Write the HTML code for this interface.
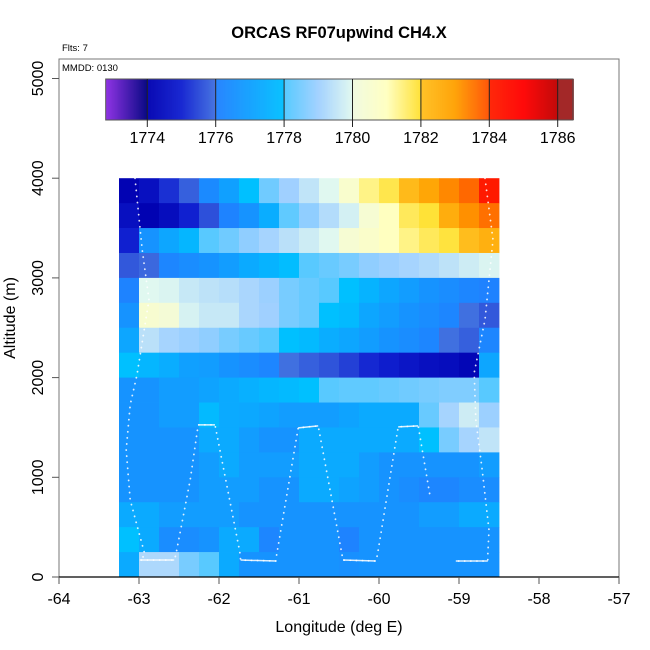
<!DOCTYPE html>
<html><head><meta charset="utf-8"><style>
body{margin:0;background:#fff}
svg{display:block;font-family:"Liberation Sans",sans-serif}
</style></head><body>
<svg id="c" width="650" height="650" xmlns="http://www.w3.org/2000/svg"></svg>
<script>
const lonStart = -63.25, lonStep = 0.25;
const altStep = 250;
// rows from top (3750-4000) to bottom (0-250), 19 columns each
const gridValues = [
[1774.1,1774.5,1775.2,1775.8,1776.3,1777.0,1778.0,1778.4,1779.0,1779.5,1780.0,1780.6,1781.4,1781.8,1782.2,1782.8,1783.3,1783.7,1784.2],
[1774.5,1774.05,1774.4,1775.0,1775.6,1776.1,1776.6,1777.4,1778.2,1778.8,1779.3,1779.8,1780.4,1781.0,1781.7,1781.95,1782.6,1783.2,1783.6],
[1775.0,1776.6,1777.2,1777.7,1778.1,1778.4,1778.8,1779.1,1779.4,1779.7,1780.0,1780.4,1780.7,1781.0,1781.4,1781.7,1781.9,1782.1,1782.5],
[1775.7,1775.9,1776.2,1776.4,1776.6,1776.9,1777.3,1777.6,1777.9,1778.1,1778.3,1778.5,1778.8,1778.95,1779.1,1779.25,1779.45,1779.7,1779.9],
[1776.1,1780.0,1779.9,1779.6,1779.45,1779.35,1779.15,1778.95,1778.5,1778.3,1778.1,1778.0,1777.6,1777.2,1776.9,1776.6,1776.4,1776.2,1776.05],
[1776.6,1780.5,1780.3,1779.85,1779.6,1779.6,1779.15,1779.0,1778.5,1778.3,1778.0,1777.8,1777.2,1776.9,1776.6,1776.4,1776.2,1776.0,1775.7],
[1777.2,1779.4,1779.1,1778.95,1778.8,1778.5,1778.3,1778.1,1778.0,1777.8,1777.4,1777.2,1776.9,1776.6,1776.4,1776.2,1776.0,1775.8,1776.2],
[1778.0,1777.7,1777.4,1777.0,1776.9,1776.6,1776.4,1776.2,1776.0,1775.8,1775.65,1775.4,1775.1,1774.9,1774.7,1774.5,1774.4,1774.2,1777.2],
[1776.6,1776.6,1776.9,1776.9,1777.1,1777.3,1777.5,1777.7,1777.8,1778.0,1778.1,1778.2,1778.2,1778.3,1778.4,1778.5,1778.6,1778.6,1778.1],
[1776.6,1776.6,1776.9,1776.9,1777.8,1777.3,1777.25,1777.1,1776.9,1776.9,1776.9,1777.1,1777.3,1777.3,1777.3,1778.3,1779.1,1779.7,1778.95],
[1776.6,1776.6,1776.6,1776.6,1777.3,1777.3,1776.9,1776.6,1776.6,1777.3,1777.3,1777.3,1777.3,1777.3,1777.3,1778.0,1778.5,1779.1,1779.5],
[1776.6,1776.6,1776.6,1776.6,1776.9,1777.3,1776.9,1776.9,1776.9,1777.3,1777.3,1777.3,1776.9,1776.6,1776.6,1776.6,1776.6,1776.6,1776.9],
[1776.6,1776.6,1776.6,1776.6,1776.9,1776.9,1776.9,1776.6,1776.6,1777.3,1777.3,1777.1,1776.9,1776.6,1776.4,1776.2,1776.2,1776.4,1776.4],
[1777.3,1777.3,1776.9,1776.9,1776.9,1776.9,1776.6,1776.6,1776.6,1776.6,1776.6,1776.6,1776.6,1776.6,1776.6,1776.9,1776.9,1777.3,1777.3],
[1778.0,1777.3,1776.4,1776.4,1776.6,1777.3,1777.3,1776.2,1776.6,1776.6,1776.6,1776.1,1776.6,1776.6,1776.6,1776.6,1776.6,1776.6,1776.6],
[1777.3,1779.2,1779.2,1778.5,1778.1,1777.3,1776.6,1776.6,1776.6,1776.6,1776.6,1776.5,1776.6,1776.6,1776.6,1776.6,1776.6,1776.6,1776.6]
];
const trackALon = [-63.05,-62.96,-62.875,-63.025,-63.11,-63.16,-63.11,-63.01,-62.925,-62.99,-62.56,-62.54,-62.36,-62.26,-62.05,-61.74,-61.73,-61.29,-61.28,-61.01,-60.76,-60.45,-60.04,-60.02,-59.76,-59.51,-59.36];
const trackAAlt = [4000,3283,2781,2028,1727,1275,773,472,221,170,170,220,974,1526,1526,251,170,160,220,1496,1516,170,160,220,1506,1516,803];
const trackBLon = [-58.675,-58.575,-58.675,-58.81,-58.79,-58.71,-58.625,-58.64,-58.64,-59.04];
const trackBAlt = [4000,3383,2580,2048,1576,1074,472,221,160,160];
const xTicks = [-64,-63,-62,-61,-60,-59,-58,-57];
const yTicks = [0,1000,2000,3000,4000,5000];
const cbTicks = [1774,1776,1778,1780,1782,1784,1786];

const X = v => 59 + (v + 64) * 80;
const Y = v => 577 - v * 0.0997;
const CB = v => 147.3 + (v - 1774) * 34.2;

const stops = [[1772.8,[138,43,226]],[1774,[0,0,128]],[1774.001,[0,0,176]],[1775,[16,32,208]],[1776,[64,112,224]],[1776.001,[32,128,255]],[1778,[0,192,255]],[1778.001,[80,200,255]],[1779,[160,208,255]],[1780,[224,248,240]],[1780.001,[240,250,224]],[1781,[255,255,192]],[1782,[255,224,48]],[1782.001,[255,192,32]],[1783,[255,160,0]],[1784,[255,80,0]],[1784.001,[255,32,0]],[1785,[255,0,0]],[1786,[192,0,0]],[1786.001,[160,32,32]],[1786.5,[160,32,32]]];
function col(v){
  if(v<=stops[0][0]) return 'rgb('+stops[0][1]+')';
  for(let i=1;i<stops.length;i++){
    if(v<=stops[i][0]){const a=stops[i-1],b=stops[i];const t=(v-a[0])/(b[0]-a[0]);
      const c=a[1].map((x,k)=>Math.round(x+(b[1][k]-x)*t));return 'rgb('+c+')';}
  }
  return 'rgb('+stops[stops.length-1][1]+')';
}
const svg=document.getElementById('c');const NS='http://www.w3.org/2000/svg';
function mk(tag,attrs,parent,text){const e=document.createElementNS(NS,tag);for(const k in attrs)e.setAttribute(k,attrs[k]);if(text!==undefined)e.textContent=text;(parent||svg).appendChild(e);return e;}

// heatmap
const hm=mk('g',{});


const nRows=gridValues.length;
gridValues.forEach((row,r)=>{
  const altTop=(nRows-r)*altStep, altBot=altTop-altStep;
  row.forEach((v,c)=>{
    const l0=lonStart+c*lonStep;
    const x0=X(l0),x1=X(l0+lonStep),y0=Y(altTop),y1=Y(altBot);
    const e=mk('rect',{x:x0,y:y0,width:x1-x0+0.4,height:y1-y0+0.4,fill:col(v)},hm);
    
    
  });
});
// tracks
function track(lons,alts,name){
  const pts=lons.map((l,i)=>X(l)+','+Y(alts[i])).join(' ');
  const e=mk('polyline',{points:pts,fill:'none',stroke:'#fff','stroke-width':1.8,'stroke-dasharray':'0.1 6','stroke-linecap':'round',opacity:0.85});
  
  
  for(let i=1;i<lons.length;i++){
    if(Math.abs(alts[i]-alts[i-1])<25){
      const s=mk('line',{x1:X(lons[i-1]),y1:Y(alts[i-1]),x2:X(lons[i]),y2:Y(alts[i]),stroke:'#fff','stroke-width':1.5,opacity:0.85});
      
      
    }
  }
}
track(trackALon,trackAAlt,'flight-track-a');
track(trackBLon,trackBAlt,'flight-track-b');

// frame
const fr=mk('rect',{x:59,y:59,width:560,height:518,fill:'none',stroke:'#777','stroke-width':1});


const xa=mk('line',{x1:59,y1:577,x2:619,y2:577,stroke:'#000','stroke-width':1.2});


xTicks.forEach(t=>{
  const tk=mk('line',{x1:X(t),y1:577,x2:X(t),y2:584,stroke:'#555'});
  
  
  const lb=mk('text',{x:X(t),y:604,'text-anchor':'middle','font-size':16},svg,String(t));
  
  
});
yTicks.forEach(t=>{
  const tk=mk('line',{x1:52,y1:Y(t),x2:59,y2:Y(t),stroke:'#555'});
  
  
  const lb=mk('text',{x:43,y:Y(t),'text-anchor':'middle','font-size':16,transform:'rotate(-90 43 '+Y(t)+')'},svg,String(t));
  
  
});
// colorbar
const cbg=mk('g',{});


for(let x=105.7;x<573;x+=1){
  const v=1774+(x+0.5-147.3)/34.2;
  mk('rect',{x:x,y:79,width:1.2,height:41,fill:col(v)},cbg);
}
mk('rect',{x:105.7,y:79,width:467.3,height:41,fill:'none',stroke:'#555','stroke-width':1},cbg);
cbTicks.forEach(t=>{
  const tk=mk('line',{x1:CB(t),y1:79,x2:CB(t),y2:127,stroke:'#222','stroke-width':1},cbg);
  
  
  const lb=mk('text',{x:CB(t),y:143,'text-anchor':'middle','font-size':16},cbg,String(t));
  
  
});
</script>
<svg width="650" height="650" style="position:absolute;left:0;top:0" xmlns="http://www.w3.org/2000/svg">
<text x="339" y="38" text-anchor="middle" font-size="16.5" font-weight="bold" font-family="Liberation Sans, sans-serif">ORCAS RF07upwind CH4.X</text>
<text x="62" y="51" font-size="9.5" font-family="Liberation Sans, sans-serif">Flts: 7</text>
<text x="62" y="71" font-size="9.5" font-family="Liberation Sans, sans-serif">MMDD: 0130</text>
<text x="339" y="632" text-anchor="middle" font-size="16" font-family="Liberation Sans, sans-serif">Longitude (deg E)</text>
<text x="15" y="318" text-anchor="middle" font-size="16" font-family="Liberation Sans, sans-serif" transform="rotate(-90 15 318)">Altitude (m)</text>
</svg>
</body></html>
